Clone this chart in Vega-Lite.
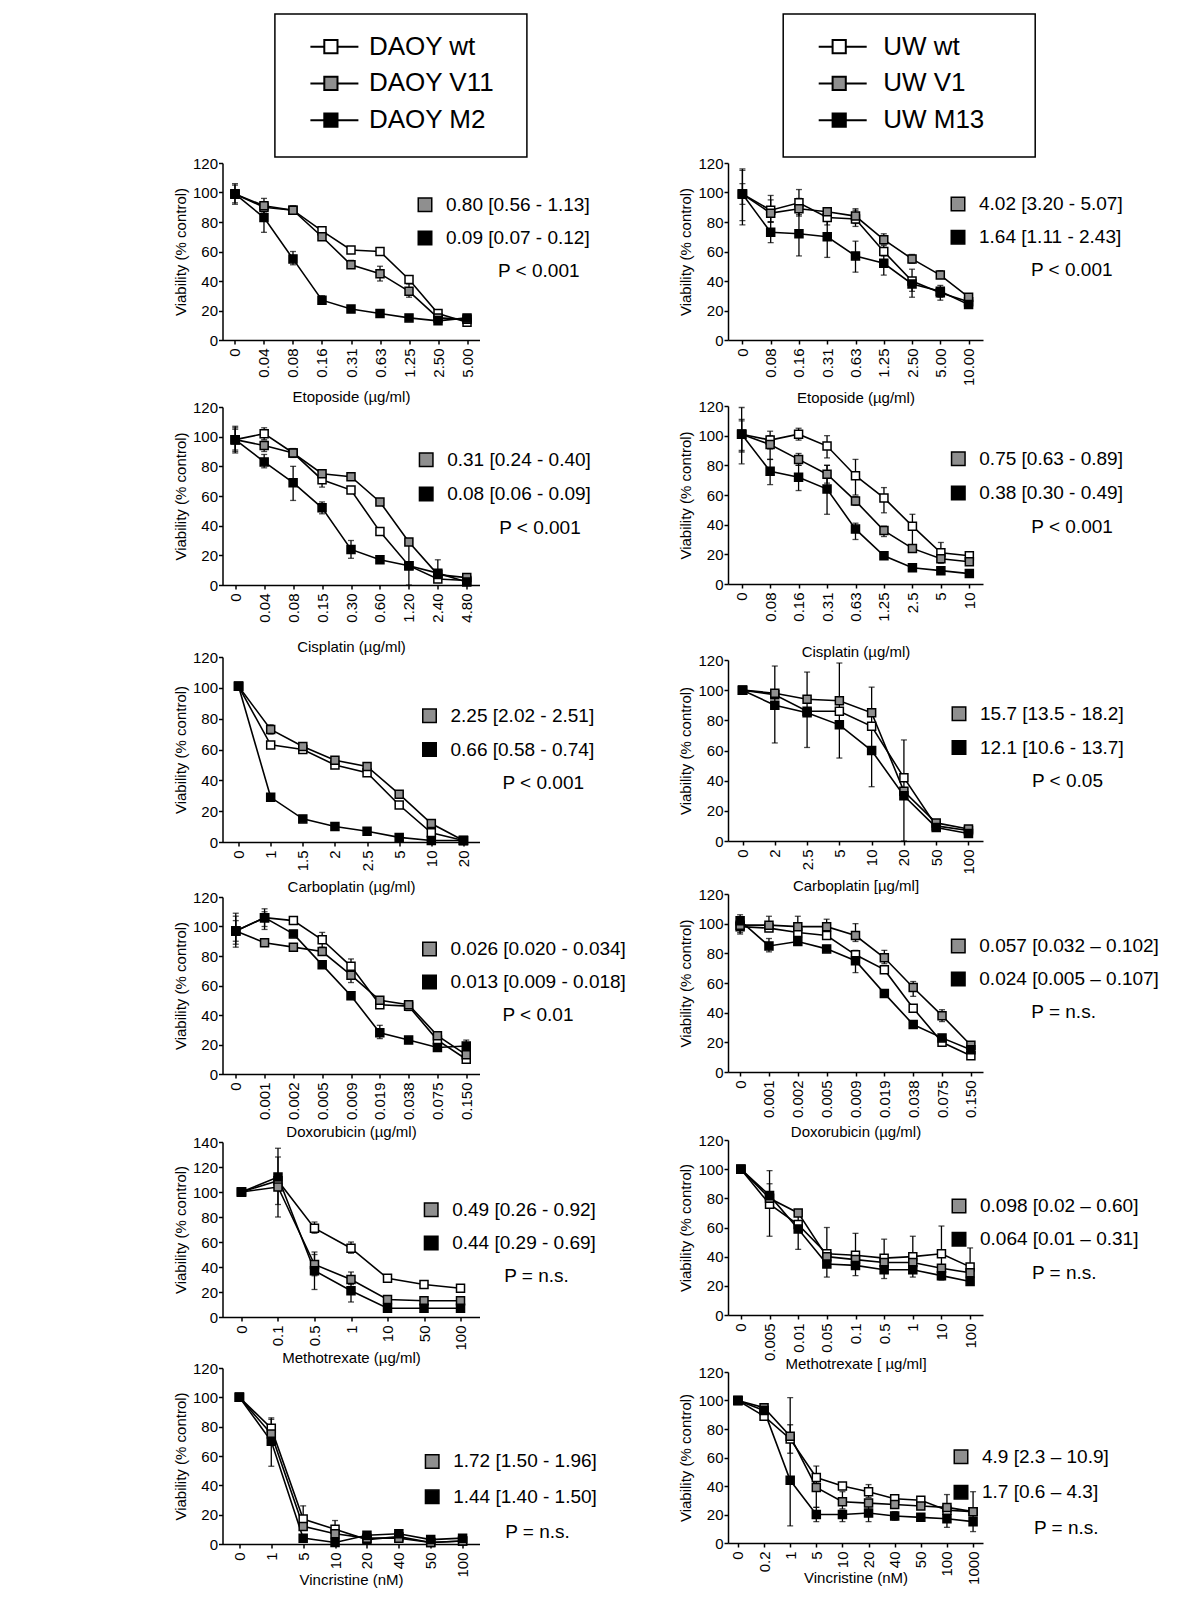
{
"$schema":"https://vega.github.io/schema/vega-lite/v6.json",
"padding":{"left":172.5,"top":11,"right":0,"bottom":0},
"background":"white",
"config":{
 "font":"Liberation Sans",
 "view":{"stroke":null},
 "axis":{"grid":false,"domainColor":"#000","domainWidth":1.5,"tickColor":"#000","tickWidth":1.5,"tickSize":4,"labelColor":"#000","labelFontSize":15,"labelFont":"Liberation Sans","titleFont":"Liberation Sans","titleFontSize":15,"titleFontWeight":"normal","titleColor":"#000","labelOverlap":false},
 "axisX":{"labelAngle":-90,"labelPadding":4},
 "axisY":{"labelPadding":1,"titlePadding":4,"tickCount":6},
 "text":{"font":"Liberation Sans","color":"#000","baseline":"middle"}
},
"datasets":{
"curves":[
{"p":"L1","s":"wt","i":0,"c":"0","v":99,"lo":93,"hi":105},
{"p":"L1","s":"wt","i":1,"c":"0.04","v":90},
{"p":"L1","s":"wt","i":2,"c":"0.08","v":88},
{"p":"L1","s":"wt","i":3,"c":"0.16","v":74},
{"p":"L1","s":"wt","i":4,"c":"0.31","v":61},
{"p":"L1","s":"wt","i":5,"c":"0.63","v":60},
{"p":"L1","s":"wt","i":6,"c":"1.25","v":41},
{"p":"L1","s":"wt","i":7,"c":"2.50","v":18},
{"p":"L1","s":"wt","i":8,"c":"5.00","v":12},
{"p":"L1","s":"V","i":0,"c":"0","v":99},
{"p":"L1","s":"V","i":1,"c":"0.04","v":91,"lo":86,"hi":96},
{"p":"L1","s":"V","i":2,"c":"0.08","v":88,"lo":86,"hi":91},
{"p":"L1","s":"V","i":3,"c":"0.16","v":70},
{"p":"L1","s":"V","i":4,"c":"0.31","v":51,"lo":49,"hi":54},
{"p":"L1","s":"V","i":5,"c":"0.63","v":45,"lo":40,"hi":50},
{"p":"L1","s":"V","i":6,"c":"1.25","v":33,"lo":29,"hi":38},
{"p":"L1","s":"V","i":7,"c":"2.50","v":15},
{"p":"L1","s":"V","i":8,"c":"5.00","v":14},
{"p":"L1","s":"M","i":0,"c":"0","v":99,"lo":92,"hi":106},
{"p":"L1","s":"M","i":1,"c":"0.04","v":83,"lo":73,"hi":92},
{"p":"L1","s":"M","i":2,"c":"0.08","v":55,"lo":51,"hi":60},
{"p":"L1","s":"M","i":3,"c":"0.16","v":27,"lo":25,"hi":30},
{"p":"L1","s":"M","i":4,"c":"0.31","v":21},
{"p":"L1","s":"M","i":5,"c":"0.63","v":18},
{"p":"L1","s":"M","i":6,"c":"1.25","v":15},
{"p":"L1","s":"M","i":7,"c":"2.50","v":13},
{"p":"L1","s":"M","i":8,"c":"5.00","v":15},

{"p":"R1","s":"wt","i":0,"c":"0","v":99,"lo":78,"hi":116},
{"p":"R1","s":"wt","i":1,"c":"0.08","v":88,"lo":80,"hi":98},
{"p":"R1","s":"wt","i":2,"c":"0.16","v":93,"lo":85,"hi":102},
{"p":"R1","s":"wt","i":3,"c":"0.31","v":83,"lo":78,"hi":89},
{"p":"R1","s":"wt","i":4,"c":"0.63","v":82,"lo":77,"hi":88},
{"p":"R1","s":"wt","i":5,"c":"1.25","v":60,"lo":57,"hi":64},
{"p":"R1","s":"wt","i":6,"c":"2.50","v":40,"lo":29,"hi":48},
{"p":"R1","s":"wt","i":7,"c":"5.00","v":32,"lo":29,"hi":35},
{"p":"R1","s":"wt","i":8,"c":"10.00","v":26},
{"p":"R1","s":"V","i":0,"c":"0","v":99,"lo":81,"hi":115},
{"p":"R1","s":"V","i":1,"c":"0.08","v":86,"lo":80,"hi":95},
{"p":"R1","s":"V","i":2,"c":"0.16","v":89,"lo":84,"hi":96},
{"p":"R1","s":"V","i":3,"c":"0.31","v":87},
{"p":"R1","s":"V","i":4,"c":"0.63","v":84,"lo":79,"hi":89},
{"p":"R1","s":"V","i":5,"c":"1.25","v":68,"lo":65,"hi":72},
{"p":"R1","s":"V","i":6,"c":"2.50","v":55,"lo":52,"hi":58},
{"p":"R1","s":"V","i":7,"c":"5.00","v":44,"lo":42,"hi":47},
{"p":"R1","s":"V","i":8,"c":"10.00","v":29,"lo":27,"hi":31},
{"p":"R1","s":"M","i":0,"c":"0","v":99,"lo":92,"hi":106},
{"p":"R1","s":"M","i":1,"c":"0.08","v":73,"lo":66,"hi":80},
{"p":"R1","s":"M","i":2,"c":"0.16","v":72,"lo":57,"hi":87},
{"p":"R1","s":"M","i":3,"c":"0.31","v":70,"lo":56,"hi":83},
{"p":"R1","s":"M","i":4,"c":"0.63","v":57,"lo":46,"hi":67},
{"p":"R1","s":"M","i":5,"c":"1.25","v":52,"lo":44,"hi":60},
{"p":"R1","s":"M","i":6,"c":"2.50","v":38,"lo":33,"hi":42},
{"p":"R1","s":"M","i":7,"c":"5.00","v":33,"lo":27,"hi":37},
{"p":"R1","s":"M","i":8,"c":"10.00","v":24,"lo":22,"hi":26},

{"p":"L2","s":"wt","i":0,"c":"0","v":98,"lo":89,"hi":107},
{"p":"L2","s":"wt","i":1,"c":"0.04","v":102,"lo":98,"hi":106},
{"p":"L2","s":"wt","i":2,"c":"0.08","v":89},
{"p":"L2","s":"wt","i":3,"c":"0.15","v":71,"lo":66,"hi":73},
{"p":"L2","s":"wt","i":4,"c":"0.30","v":64},
{"p":"L2","s":"wt","i":5,"c":"0.60","v":36},
{"p":"L2","s":"wt","i":6,"c":"1.20","v":13},
{"p":"L2","s":"wt","i":7,"c":"2.40","v":4},
{"p":"L2","s":"wt","i":8,"c":"4.80","v":3},
{"p":"L2","s":"V","i":0,"c":"0","v":98,"lo":90,"hi":106},
{"p":"L2","s":"V","i":1,"c":"0.04","v":94,"lo":90,"hi":97},
{"p":"L2","s":"V","i":2,"c":"0.08","v":89,"lo":86,"hi":92},
{"p":"L2","s":"V","i":3,"c":"0.15","v":75},
{"p":"L2","s":"V","i":4,"c":"0.30","v":73},
{"p":"L2","s":"V","i":5,"c":"0.60","v":56},
{"p":"L2","s":"V","i":6,"c":"1.20","v":29},
{"p":"L2","s":"V","i":7,"c":"2.40","v":7},
{"p":"L2","s":"V","i":8,"c":"4.80","v":5},
{"p":"L2","s":"M","i":0,"c":"0","v":98,"lo":91,"hi":105},
{"p":"L2","s":"M","i":1,"c":"0.04","v":83,"lo":79,"hi":88},
{"p":"L2","s":"M","i":2,"c":"0.08","v":69,"lo":57,"hi":80},
{"p":"L2","s":"M","i":3,"c":"0.15","v":52,"lo":48,"hi":56},
{"p":"L2","s":"M","i":4,"c":"0.30","v":24,"lo":18,"hi":30},
{"p":"L2","s":"M","i":5,"c":"0.60","v":17,"lo":15,"hi":19},
{"p":"L2","s":"M","i":6,"c":"1.20","v":13,"lo":0,"hi":28},
{"p":"L2","s":"M","i":7,"c":"2.40","v":8,"lo":3,"hi":17},
{"p":"L2","s":"M","i":8,"c":"4.80","v":2},

{"p":"R2","s":"wt","i":0,"c":"0","v":101,"lo":81,"hi":119},
{"p":"R2","s":"wt","i":1,"c":"0.08","v":97,"lo":91,"hi":103},
{"p":"R2","s":"wt","i":2,"c":"0.16","v":101,"lo":97,"hi":105},
{"p":"R2","s":"wt","i":3,"c":"0.31","v":93,"lo":85,"hi":100},
{"p":"R2","s":"wt","i":4,"c":"0.63","v":73,"lo":60,"hi":84},
{"p":"R2","s":"wt","i":5,"c":"1.25","v":58,"lo":48,"hi":65},
{"p":"R2","s":"wt","i":6,"c":"2.5","v":39,"lo":26,"hi":47},
{"p":"R2","s":"wt","i":7,"c":"5","v":21,"lo":14,"hi":28},
{"p":"R2","s":"wt","i":8,"c":"10","v":19},
{"p":"R2","s":"V","i":0,"c":"0","v":101,"lo":89,"hi":111},
{"p":"R2","s":"V","i":1,"c":"0.08","v":94,"lo":84,"hi":100},
{"p":"R2","s":"V","i":2,"c":"0.16","v":84,"lo":80,"hi":88},
{"p":"R2","s":"V","i":3,"c":"0.31","v":74,"lo":68,"hi":80},
{"p":"R2","s":"V","i":4,"c":"0.63","v":56,"lo":53,"hi":59},
{"p":"R2","s":"V","i":5,"c":"1.25","v":36,"lo":32,"hi":39},
{"p":"R2","s":"V","i":6,"c":"2.5","v":24,"lo":22,"hi":26},
{"p":"R2","s":"V","i":7,"c":"5","v":17,"lo":15,"hi":19},
{"p":"R2","s":"V","i":8,"c":"10","v":15},
{"p":"R2","s":"M","i":0,"c":"0","v":101,"lo":90,"hi":110},
{"p":"R2","s":"M","i":1,"c":"0.08","v":76,"lo":67,"hi":84},
{"p":"R2","s":"M","i":2,"c":"0.16","v":72,"lo":63,"hi":80},
{"p":"R2","s":"M","i":3,"c":"0.31","v":64,"lo":47,"hi":80},
{"p":"R2","s":"M","i":4,"c":"0.63","v":37,"lo":30,"hi":41},
{"p":"R2","s":"M","i":5,"c":"1.25","v":19},
{"p":"R2","s":"M","i":6,"c":"2.5","v":11},
{"p":"R2","s":"M","i":7,"c":"5","v":9},
{"p":"R2","s":"M","i":8,"c":"10","v":7},

{"p":"L3","s":"wt","i":0,"c":"0","v":101},
{"p":"L3","s":"wt","i":1,"c":"1","v":63},
{"p":"L3","s":"wt","i":2,"c":"1.5","v":60},
{"p":"L3","s":"wt","i":3,"c":"2","v":50},
{"p":"L3","s":"wt","i":4,"c":"2.5","v":45},
{"p":"L3","s":"wt","i":5,"c":"5","v":24},
{"p":"L3","s":"wt","i":6,"c":"10","v":6},
{"p":"L3","s":"wt","i":7,"c":"20","v":1},
{"p":"L3","s":"V","i":0,"c":"0","v":101},
{"p":"L3","s":"V","i":1,"c":"1","v":73,"lo":70,"hi":76},
{"p":"L3","s":"V","i":2,"c":"1.5","v":62},
{"p":"L3","s":"V","i":3,"c":"2","v":53},
{"p":"L3","s":"V","i":4,"c":"2.5","v":49},
{"p":"L3","s":"V","i":5,"c":"5","v":31},
{"p":"L3","s":"V","i":6,"c":"10","v":12},
{"p":"L3","s":"V","i":7,"c":"20","v":1},
{"p":"L3","s":"M","i":0,"c":"0","v":101},
{"p":"L3","s":"M","i":1,"c":"1","v":29},
{"p":"L3","s":"M","i":2,"c":"1.5","v":15},
{"p":"L3","s":"M","i":3,"c":"2","v":10},
{"p":"L3","s":"M","i":4,"c":"2.5","v":7},
{"p":"L3","s":"M","i":5,"c":"5","v":3},
{"p":"L3","s":"M","i":6,"c":"10","v":1},
{"p":"L3","s":"M","i":7,"c":"20","v":1},

{"p":"R3","s":"wt","i":0,"c":"0","v":100},
{"p":"R3","s":"wt","i":1,"c":"2","v":97},
{"p":"R3","s":"wt","i":2,"c":"2.5","v":86},
{"p":"R3","s":"wt","i":3,"c":"5","v":86},
{"p":"R3","s":"wt","i":4,"c":"10","v":76},
{"p":"R3","s":"wt","i":5,"c":"20","v":42,"lo":0,"hi":67},
{"p":"R3","s":"wt","i":6,"c":"50","v":10},
{"p":"R3","s":"wt","i":7,"c":"100","v":7},
{"p":"R3","s":"V","i":0,"c":"0","v":100},
{"p":"R3","s":"V","i":1,"c":"2","v":98},
{"p":"R3","s":"V","i":2,"c":"2.5","v":94},
{"p":"R3","s":"V","i":3,"c":"5","v":93},
{"p":"R3","s":"V","i":4,"c":"10","v":85},
{"p":"R3","s":"V","i":5,"c":"20","v":33},
{"p":"R3","s":"V","i":6,"c":"50","v":12},
{"p":"R3","s":"V","i":7,"c":"100","v":8},
{"p":"R3","s":"M","i":0,"c":"0","v":100},
{"p":"R3","s":"M","i":1,"c":"2","v":90,"lo":65,"hi":116},
{"p":"R3","s":"M","i":2,"c":"2.5","v":85,"lo":62,"hi":112},
{"p":"R3","s":"M","i":3,"c":"5","v":77,"lo":55,"hi":118},
{"p":"R3","s":"M","i":4,"c":"10","v":60,"lo":36,"hi":102},
{"p":"R3","s":"M","i":5,"c":"20","v":30},
{"p":"R3","s":"M","i":6,"c":"50","v":9},
{"p":"R3","s":"M","i":7,"c":"100","v":5},

{"p":"L4","s":"wt","i":0,"c":"0","v":97,"lo":86,"hi":109},
{"p":"L4","s":"wt","i":1,"c":"0.001","v":106,"lo":98,"hi":110},
{"p":"L4","s":"wt","i":2,"c":"0.002","v":104},
{"p":"L4","s":"wt","i":3,"c":"0.005","v":91,"lo":86,"hi":96},
{"p":"L4","s":"wt","i":4,"c":"0.009","v":73,"lo":68,"hi":78},
{"p":"L4","s":"wt","i":5,"c":"0.019","v":47,"lo":45,"hi":49},
{"p":"L4","s":"wt","i":6,"c":"0.038","v":46},
{"p":"L4","s":"wt","i":7,"c":"0.075","v":23},
{"p":"L4","s":"wt","i":8,"c":"0.150","v":10},
{"p":"L4","s":"V","i":0,"c":"0","v":97,"lo":90,"hi":104},
{"p":"L4","s":"V","i":1,"c":"0.001","v":89},
{"p":"L4","s":"V","i":2,"c":"0.002","v":86},
{"p":"L4","s":"V","i":3,"c":"0.005","v":83},
{"p":"L4","s":"V","i":4,"c":"0.009","v":67,"lo":62,"hi":71},
{"p":"L4","s":"V","i":5,"c":"0.019","v":50},
{"p":"L4","s":"V","i":6,"c":"0.038","v":47,"lo":43,"hi":49},
{"p":"L4","s":"V","i":7,"c":"0.075","v":26},
{"p":"L4","s":"V","i":8,"c":"0.150","v":13},
{"p":"L4","s":"M","i":0,"c":"0","v":97,"lo":88,"hi":107},
{"p":"L4","s":"M","i":1,"c":"0.001","v":106,"lo":100,"hi":112},
{"p":"L4","s":"M","i":2,"c":"0.002","v":95},
{"p":"L4","s":"M","i":3,"c":"0.005","v":74},
{"p":"L4","s":"M","i":4,"c":"0.009","v":53},
{"p":"L4","s":"M","i":5,"c":"0.019","v":28,"lo":24,"hi":33},
{"p":"L4","s":"M","i":6,"c":"0.038","v":23},
{"p":"L4","s":"M","i":7,"c":"0.075","v":18},
{"p":"L4","s":"M","i":8,"c":"0.150","v":19,"lo":14,"hi":23},

{"p":"R4","s":"wt","i":0,"c":"0","v":98,"lo":94,"hi":104},
{"p":"R4","s":"wt","i":1,"c":"0.001","v":97},
{"p":"R4","s":"wt","i":2,"c":"0.002","v":94},
{"p":"R4","s":"wt","i":3,"c":"0.005","v":92},
{"p":"R4","s":"wt","i":4,"c":"0.009","v":79},
{"p":"R4","s":"wt","i":5,"c":"0.019","v":69},
{"p":"R4","s":"wt","i":6,"c":"0.038","v":43},
{"p":"R4","s":"wt","i":7,"c":"0.075","v":20},
{"p":"R4","s":"wt","i":8,"c":"0.150","v":11},
{"p":"R4","s":"V","i":0,"c":"0","v":99},
{"p":"R4","s":"V","i":1,"c":"0.001","v":99,"lo":95,"hi":105},
{"p":"R4","s":"V","i":2,"c":"0.002","v":98,"lo":93,"hi":105},
{"p":"R4","s":"V","i":3,"c":"0.005","v":98,"lo":94,"hi":103},
{"p":"R4","s":"V","i":4,"c":"0.009","v":92,"lo":88,"hi":100},
{"p":"R4","s":"V","i":5,"c":"0.019","v":77,"lo":73,"hi":82},
{"p":"R4","s":"V","i":6,"c":"0.038","v":57,"lo":51,"hi":61},
{"p":"R4","s":"V","i":7,"c":"0.075","v":38,"lo":34,"hi":42},
{"p":"R4","s":"V","i":8,"c":"0.150","v":18},
{"p":"R4","s":"M","i":0,"c":"0","v":102,"lo":93,"hi":106},
{"p":"R4","s":"M","i":1,"c":"0.001","v":85,"lo":81,"hi":90},
{"p":"R4","s":"M","i":2,"c":"0.002","v":88},
{"p":"R4","s":"M","i":3,"c":"0.005","v":83},
{"p":"R4","s":"M","i":4,"c":"0.009","v":75,"lo":67,"hi":82},
{"p":"R4","s":"M","i":5,"c":"0.019","v":53},
{"p":"R4","s":"M","i":6,"c":"0.038","v":32},
{"p":"R4","s":"M","i":7,"c":"0.075","v":23},
{"p":"R4","s":"M","i":8,"c":"0.150","v":15},

{"p":"L5","s":"wt","i":0,"c":"0","v":100},
{"p":"L5","s":"wt","i":1,"c":"0.1","v":109},
{"p":"L5","s":"wt","i":2,"c":"0.5","v":71,"lo":67,"hi":76},
{"p":"L5","s":"wt","i":3,"c":"1","v":55,"lo":51,"hi":60},
{"p":"L5","s":"wt","i":4,"c":"10","v":31},
{"p":"L5","s":"wt","i":5,"c":"50","v":26},
{"p":"L5","s":"wt","i":6,"c":"100","v":23},
{"p":"L5","s":"V","i":0,"c":"0","v":100},
{"p":"L5","s":"V","i":1,"c":"0.1","v":104,"lo":80,"hi":128},
{"p":"L5","s":"V","i":2,"c":"0.5","v":42,"lo":33,"hi":52},
{"p":"L5","s":"V","i":3,"c":"1","v":30,"lo":26,"hi":36},
{"p":"L5","s":"V","i":4,"c":"10","v":14},
{"p":"L5","s":"V","i":5,"c":"50","v":13},
{"p":"L5","s":"V","i":6,"c":"100","v":13},
{"p":"L5","s":"M","i":0,"c":"0","v":100},
{"p":"L5","s":"M","i":1,"c":"0.1","v":112,"lo":90,"hi":135},
{"p":"L5","s":"M","i":2,"c":"0.5","v":37,"lo":22,"hi":50},
{"p":"L5","s":"M","i":3,"c":"1","v":21,"lo":12,"hi":27},
{"p":"L5","s":"M","i":4,"c":"10","v":7},
{"p":"L5","s":"M","i":5,"c":"50","v":7},
{"p":"L5","s":"M","i":6,"c":"100","v":7},

{"p":"R5","s":"wt","i":0,"c":"0","v":100},
{"p":"R5","s":"wt","i":1,"c":"0.005","v":76,"lo":54,"hi":99},
{"p":"R5","s":"wt","i":2,"c":"0.01","v":62,"lo":45,"hi":68},
{"p":"R5","s":"wt","i":3,"c":"0.05","v":42,"lo":26,"hi":60},
{"p":"R5","s":"wt","i":4,"c":"0.1","v":41,"lo":27,"hi":56},
{"p":"R5","s":"wt","i":5,"c":"0.5","v":39,"lo":25,"hi":52},
{"p":"R5","s":"wt","i":6,"c":"1","v":40,"lo":26,"hi":54},
{"p":"R5","s":"wt","i":7,"c":"10","v":42,"lo":24,"hi":61},
{"p":"R5","s":"wt","i":8,"c":"100","v":33,"lo":21,"hi":46},
{"p":"R5","s":"V","i":0,"c":"0","v":100},
{"p":"R5","s":"V","i":1,"c":"0.005","v":80},
{"p":"R5","s":"V","i":2,"c":"0.01","v":70},
{"p":"R5","s":"V","i":3,"c":"0.05","v":40},
{"p":"R5","s":"V","i":4,"c":"0.1","v":38},
{"p":"R5","s":"V","i":5,"c":"0.5","v":36},
{"p":"R5","s":"V","i":6,"c":"1","v":36},
{"p":"R5","s":"V","i":7,"c":"10","v":32},
{"p":"R5","s":"V","i":8,"c":"100","v":29},
{"p":"R5","s":"M","i":0,"c":"0","v":100},
{"p":"R5","s":"M","i":1,"c":"0.005","v":82,"lo":75,"hi":90},
{"p":"R5","s":"M","i":2,"c":"0.01","v":59},
{"p":"R5","s":"M","i":3,"c":"0.05","v":35},
{"p":"R5","s":"M","i":4,"c":"0.1","v":34},
{"p":"R5","s":"M","i":5,"c":"0.5","v":31},
{"p":"R5","s":"M","i":6,"c":"1","v":31},
{"p":"R5","s":"M","i":7,"c":"10","v":27},
{"p":"R5","s":"M","i":8,"c":"100","v":23},

{"p":"L6","s":"wt","i":0,"c":"0","v":100},
{"p":"L6","s":"wt","i":1,"c":"1","v":79,"lo":74,"hi":86},
{"p":"L6","s":"wt","i":2,"c":"5","v":17,"lo":10,"hi":26},
{"p":"L6","s":"wt","i":3,"c":"10","v":10,"lo":6,"hi":16},
{"p":"L6","s":"wt","i":4,"c":"20","v":3},
{"p":"L6","s":"wt","i":5,"c":"40","v":5},
{"p":"L6","s":"wt","i":6,"c":"50","v":1},
{"p":"L6","s":"wt","i":7,"c":"100","v":2},
{"p":"L6","s":"V","i":0,"c":"0","v":100},
{"p":"L6","s":"V","i":1,"c":"1","v":75},
{"p":"L6","s":"V","i":2,"c":"5","v":12},
{"p":"L6","s":"V","i":3,"c":"10","v":7},
{"p":"L6","s":"V","i":4,"c":"20","v":4},
{"p":"L6","s":"V","i":5,"c":"40","v":4},
{"p":"L6","s":"V","i":6,"c":"50","v":1},
{"p":"L6","s":"V","i":7,"c":"100","v":2},
{"p":"L6","s":"M","i":0,"c":"0","v":100},
{"p":"L6","s":"M","i":1,"c":"1","v":70,"lo":53,"hi":85},
{"p":"L6","s":"M","i":2,"c":"5","v":4},
{"p":"L6","s":"M","i":3,"c":"10","v":1},
{"p":"L6","s":"M","i":4,"c":"20","v":6},
{"p":"L6","s":"M","i":5,"c":"40","v":7},
{"p":"L6","s":"M","i":6,"c":"50","v":3},
{"p":"L6","s":"M","i":7,"c":"100","v":4},

{"p":"R6","s":"wt","i":0,"c":"0","v":100},
{"p":"R6","s":"wt","i":1,"c":"0.2","v":89},
{"p":"R6","s":"wt","i":2,"c":"1","v":73},
{"p":"R6","s":"wt","i":3,"c":"5","v":46,"lo":43,"hi":54},
{"p":"R6","s":"wt","i":4,"c":"10","v":40},
{"p":"R6","s":"wt","i":5,"c":"20","v":36,"lo":32,"hi":41},
{"p":"R6","s":"wt","i":6,"c":"40","v":31},
{"p":"R6","s":"wt","i":7,"c":"50","v":30},
{"p":"R6","s":"wt","i":8,"c":"100","v":23},
{"p":"R6","s":"wt","i":9,"c":"1000","v":22,"lo":8,"hi":36},
{"p":"R6","s":"V","i":0,"c":"0","v":100},
{"p":"R6","s":"V","i":1,"c":"0.2","v":95},
{"p":"R6","s":"V","i":2,"c":"1","v":75,"lo":63,"hi":83},
{"p":"R6","s":"V","i":3,"c":"5","v":39,"lo":25,"hi":46},
{"p":"R6","s":"V","i":4,"c":"10","v":29,"lo":24,"hi":36},
{"p":"R6","s":"V","i":5,"c":"20","v":28},
{"p":"R6","s":"V","i":6,"c":"40","v":27},
{"p":"R6","s":"V","i":7,"c":"50","v":26},
{"p":"R6","s":"V","i":8,"c":"100","v":25,"lo":19,"hi":34},
{"p":"R6","s":"V","i":9,"c":"1000","v":22},
{"p":"R6","s":"M","i":0,"c":"0","v":100},
{"p":"R6","s":"M","i":1,"c":"0.2","v":93},
{"p":"R6","s":"M","i":2,"c":"1","v":44,"lo":12,"hi":102},
{"p":"R6","s":"M","i":3,"c":"5","v":20,"lo":15,"hi":25},
{"p":"R6","s":"M","i":4,"c":"10","v":20,"lo":15,"hi":23},
{"p":"R6","s":"M","i":5,"c":"20","v":21,"lo":15,"hi":27},
{"p":"R6","s":"M","i":6,"c":"40","v":19,"lo":16,"hi":22},
{"p":"R6","s":"M","i":7,"c":"50","v":18},
{"p":"R6","s":"M","i":8,"c":"100","v":17,"lo":11,"hi":22},
{"p":"R6","s":"M","i":9,"c":"1000","v":15}
],
"anno":[
{"p":"L1","ln":"a","s":"V","t":"0.80 [0.56 - 1.13]"},{"p":"L1","ln":"b","s":"M","t":"0.09 [0.07 - 0.12]"},{"p":"L1","ln":"p","t":"P < 0.001"},
{"p":"R1","ln":"a","s":"V","t":"4.02 [3.20 - 5.07]"},{"p":"R1","ln":"b","s":"M","t":"1.64 [1.11 - 2.43]"},{"p":"R1","ln":"p","t":"P < 0.001"},
{"p":"L2","ln":"a","s":"V","t":"0.31 [0.24 - 0.40]"},{"p":"L2","ln":"b","s":"M","t":"0.08 [0.06 - 0.09]"},{"p":"L2","ln":"p","t":"P < 0.001"},
{"p":"R2","ln":"a","s":"V","t":"0.75 [0.63 - 0.89]"},{"p":"R2","ln":"b","s":"M","t":"0.38 [0.30 - 0.49]"},{"p":"R2","ln":"p","t":"P < 0.001"},
{"p":"L3","ln":"a","s":"V","t":"2.25 [2.02 - 2.51]"},{"p":"L3","ln":"b","s":"M","t":"0.66 [0.58 - 0.74]"},{"p":"L3","ln":"p","t":"P < 0.001"},
{"p":"R3","ln":"a","s":"V","t":"15.7 [13.5 - 18.2]"},{"p":"R3","ln":"b","s":"M","t":"12.1 [10.6 - 13.7]"},{"p":"R3","ln":"p","t":"P < 0.05"},
{"p":"L4","ln":"a","s":"V","t":"0.026 [0.020 - 0.034]"},{"p":"L4","ln":"b","s":"M","t":"0.013 [0.009 - 0.018]"},{"p":"L4","ln":"p","t":"P < 0.01"},
{"p":"R4","ln":"a","s":"V","t":"0.057 [0.032 – 0.102]"},{"p":"R4","ln":"b","s":"M","t":"0.024 [0.005 – 0.107]"},{"p":"R4","ln":"p","t":"P = n.s."},
{"p":"L5","ln":"a","s":"V","t":"0.49 [0.26 - 0.92]"},{"p":"L5","ln":"b","s":"M","t":"0.44 [0.29 - 0.69]"},{"p":"L5","ln":"p","t":"P = n.s."},
{"p":"R5","ln":"a","s":"V","t":"0.098 [0.02 – 0.60]"},{"p":"R5","ln":"b","s":"M","t":"0.064 [0.01 – 0.31]"},{"p":"R5","ln":"p","t":"P = n.s."},
{"p":"L6","ln":"a","s":"V","t":"1.72 [1.50 - 1.96]"},{"p":"L6","ln":"b","s":"M","t":"1.44 [1.40 - 1.50]"},{"p":"L6","ln":"p","t":"P = n.s."},
{"p":"R6","ln":"a","s":"V","t":"4.9 [2.3 – 10.9]"},{"p":"R6","ln":"b","s":"M","t":"1.7 [0.6 – 4.3]"},{"p":"R6","ln":"p","t":"P = n.s."}
],
"legend":[
{"g":"DAOY","lab":"DAOY wt","s":"wt"},{"g":"DAOY","lab":"DAOY V11","s":"V"},{"g":"DAOY","lab":"DAOY M2","s":"M"},
{"g":"UW","lab":"UW wt","s":"wt"},{"g":"UW","lab":"UW V1","s":"V"},{"g":"UW","lab":"UW M13","s":"M"}
]
},
"data":{"name":"curves"},
"spacing":51.5,
"hconcat":[
{"spacing":-2,"vconcat":[
 {"spacing":47.4,"hconcat":[
  {"width":1,"height":1,"data":{"values":[{"z":0}]},"mark":{"type":"point","opacity":0},"encoding":{}},
  {"width":252,"height":143,"view":{"stroke":"#000","strokeWidth":1.5},"data":{"name":"legend"},"transform":[{"filter":"datum.g=='DAOY'"}],
   "encoding":{"y":{"field":"lab","type":"ordinal","scale":{"type":"point","padding":0,"domain":["DAOY wt","DAOY V11","DAOY M2"],"range":[32.7,106.2]},"axis":null}},
   "layer":[
    {"mark":{"type":"point","shape":"M-9.05,0H-7.66M-6.34,0H-4.25M-7.66,-0.66H-6.34V0.66H-7.66Z","filled":true,"size":400,"stroke":"#000","strokeWidth":2,"opacity":1},"encoding":{"fill":{"field":"s","type":"nominal","scale":{"domain":["wt","V","M"],"range":["#ffffff","#8f8f8f","#000000"]},"legend":null}}},
    {"mark":{"type":"text","align":"left","dx":-32,"fontSize":26},"encoding":{"text":{"field":"lab"}}}
   ]}
 ]},
 {"spacing":-5,"vconcat":[
  {"width":257,"height":177,"resolve":{"scale":{"y":"independent"}},"layer":[
   {"transform":[{"filter":"datum.p=='L1'"}],
    "encoding":{"x":{"field":"c","type":"ordinal","scale":{"type":"point","padding":0.43,"domain":["0","0.04","0.08","0.16","0.31","0.63","1.25","2.50","5.00"]},"axis":{"title":"Etoposide (µg/ml)","titlePadding":12.3}}},
    "layer":[
     {"transform":[{"filter":"isValid(datum.lo)"}],"mark":{"type":"errorbar","ticks":true,"size":6,"thickness":1.3,"color":"#000"},"encoding":{"y":{"field":"lo","type":"quantitative","scale":{"domain":[0,120]},"title":"Viability  (% control)"},"y2":{"field":"hi"}}},
     {"mark":{"type":"line","color":"#000","strokeWidth":1.6},"encoding":{"y":{"field":"v","type":"quantitative","scale":{"domain":[0,120]},"title":"Viability  (% control)"},"detail":{"field":"s","type":"nominal"},"order":{"field":"i","type":"quantitative"}}},
     {"mark":{"type":"point","shape":"square","filled":true,"size":64,"stroke":"#000","strokeWidth":1.5,"opacity":1},"encoding":{"y":{"field":"v","type":"quantitative","scale":{"domain":[0,120]},"title":"Viability  (% control)"},"fill":{"field":"s","type":"nominal","scale":{"domain":["wt","V","M"],"range":["#ffffff","#8f8f8f","#000000"]},"legend":null}}}
    ]},
   {"data":{"name":"anno"},"transform":[{"filter":"datum.p=='L1'"}],
    "encoding":{"y":{"field":"ln","type":"ordinal","scale":{"type":"point","padding":0,"domain":["a","b","p"],"range":[41.7,108.1]},"axis":null}},
    "layer":[
     {"transform":[{"filter":"datum.ln!='p'"}],"mark":{"type":"point","shape":"M6.725,-0.675H8.075V0.675H6.725Z","filled":true,"size":400,"stroke":"#000","strokeWidth":1.5,"opacity":1},"encoding":{"fill":{"field":"s","type":"nominal","scale":{"domain":["wt","V","M"],"range":["#ffffff","#8f8f8f","#000000"]},"legend":null}}},
     {"transform":[{"filter":"datum.ln!='p'"}],"mark":{"type":"text","align":"left","dx":95,"fontSize":19},"encoding":{"text":{"field":"t"}}},
     {"transform":[{"filter":"datum.ln=='p'"}],"mark":{"type":"text","align":"left","dx":147,"fontSize":19},"encoding":{"text":{"field":"t"}}}
    ]}
  ]},
  {"width":257,"height":178,"resolve":{"scale":{"y":"independent"}},"layer":[
   {"transform":[{"filter":"datum.p=='L2'"}],
    "encoding":{"x":{"field":"c","type":"ordinal","scale":{"type":"point","padding":0.44,"domain":["0","0.04","0.08","0.15","0.30","0.60","1.20","2.40","4.80"]},"axis":{"title":"Cisplatin (µg/ml)","titlePadding":16.9}}},
    "layer":[
     {"transform":[{"filter":"isValid(datum.lo)"}],"mark":{"type":"errorbar","ticks":true,"size":6,"thickness":1.3,"color":"#000"},"encoding":{"y":{"field":"lo","type":"quantitative","scale":{"domain":[0,120]},"title":"Viability  (% control)"},"y2":{"field":"hi"}}},
     {"mark":{"type":"line","color":"#000","strokeWidth":1.6},"encoding":{"y":{"field":"v","type":"quantitative","scale":{"domain":[0,120]},"title":"Viability  (% control)"},"detail":{"field":"s","type":"nominal"},"order":{"field":"i","type":"quantitative"}}},
     {"mark":{"type":"point","shape":"square","filled":true,"size":64,"stroke":"#000","strokeWidth":1.5,"opacity":1},"encoding":{"y":{"field":"v","type":"quantitative","scale":{"domain":[0,120]},"title":"Viability  (% control)"},"fill":{"field":"s","type":"nominal","scale":{"domain":["wt","V","M"],"range":["#ffffff","#8f8f8f","#000000"]},"legend":null}}}
    ]},
   {"data":{"name":"anno"},"transform":[{"filter":"datum.p=='L2'"}],
    "encoding":{"y":{"field":"ln","type":"ordinal","scale":{"type":"point","padding":0,"domain":["a","b","p"],"range":[52.7,121.3]},"axis":null}},
    "layer":[
     {"transform":[{"filter":"datum.ln!='p'"}],"mark":{"type":"point","shape":"M6.845,-0.675H8.195V0.675H6.845Z","filled":true,"size":400,"stroke":"#000","strokeWidth":1.5,"opacity":1},"encoding":{"fill":{"field":"s","type":"nominal","scale":{"domain":["wt","V","M"],"range":["#ffffff","#8f8f8f","#000000"]},"legend":null}}},
     {"transform":[{"filter":"datum.ln!='p'"}],"mark":{"type":"text","align":"left","dx":96.2,"fontSize":19},"encoding":{"text":{"field":"t"}}},
     {"transform":[{"filter":"datum.ln=='p'"}],"mark":{"type":"text","align":"left","dx":148.2,"fontSize":19},"encoding":{"text":{"field":"t"}}}
    ]}
  ]},
  {"width":257,"height":185,"resolve":{"scale":{"y":"independent"}},"layer":[
   {"transform":[{"filter":"datum.p=='L3'"}],
    "encoding":{"x":{"field":"c","type":"ordinal","scale":{"type":"point","padding":0.5,"domain":["0","1","1.5","2","2.5","5","10","20"]},"axis":{"title":"Carboplatin (µg/ml)","titlePadding":8.6}}},
    "layer":[
     {"transform":[{"filter":"isValid(datum.lo)"}],"mark":{"type":"errorbar","ticks":true,"size":6,"thickness":1.3,"color":"#000"},"encoding":{"y":{"field":"lo","type":"quantitative","scale":{"domain":[0,120]},"title":"Viability (% control)"},"y2":{"field":"hi"}}},
     {"mark":{"type":"line","color":"#000","strokeWidth":1.6},"encoding":{"y":{"field":"v","type":"quantitative","scale":{"domain":[0,120]},"title":"Viability (% control)"},"detail":{"field":"s","type":"nominal"},"order":{"field":"i","type":"quantitative"}}},
     {"mark":{"type":"point","shape":"square","filled":true,"size":64,"stroke":"#000","strokeWidth":1.5,"opacity":1},"encoding":{"y":{"field":"v","type":"quantitative","scale":{"domain":[0,120]},"title":"Viability (% control)"},"fill":{"field":"s","type":"nominal","scale":{"domain":["wt","V","M"],"range":["#ffffff","#8f8f8f","#000000"]},"legend":null}}}
    ]},
   {"data":{"name":"anno"},"transform":[{"filter":"datum.p=='L3'"}],
    "encoding":{"y":{"field":"ln","type":"ordinal","scale":{"type":"point","padding":0,"domain":["a","b","p"],"range":[58.7,126.4]},"axis":null}},
    "layer":[
     {"transform":[{"filter":"datum.ln!='p'"}],"mark":{"type":"point","shape":"M7.175,-0.675H8.525V0.675H7.175Z","filled":true,"size":400,"stroke":"#000","strokeWidth":1.5,"opacity":1},"encoding":{"fill":{"field":"s","type":"nominal","scale":{"domain":["wt","V","M"],"range":["#ffffff","#8f8f8f","#000000"]},"legend":null}}},
     {"transform":[{"filter":"datum.ln!='p'"}],"mark":{"type":"text","align":"left","dx":99.5,"fontSize":19},"encoding":{"text":{"field":"t"}}},
     {"transform":[{"filter":"datum.ln=='p'"}],"mark":{"type":"text","align":"left","dx":151.5,"fontSize":19},"encoding":{"text":{"field":"t"}}}
    ]}
  ]},
  {"width":257,"height":177,"resolve":{"scale":{"y":"independent"}},"layer":[
   {"transform":[{"filter":"datum.p=='L4'"}],
    "encoding":{"x":{"field":"c","type":"ordinal","scale":{"type":"point","padding":0.46,"domain":["0","0.001","0.002","0.005","0.009","0.019","0.038","0.075","0.150"]},"axis":{"title":"Doxorubicin (µg/ml)","titlePadding":5}}},
    "layer":[
     {"transform":[{"filter":"isValid(datum.lo)"}],"mark":{"type":"errorbar","ticks":true,"size":6,"thickness":1.3,"color":"#000"},"encoding":{"y":{"field":"lo","type":"quantitative","scale":{"domain":[0,120]},"title":"Viability  (% control)"},"y2":{"field":"hi"}}},
     {"mark":{"type":"line","color":"#000","strokeWidth":1.6},"encoding":{"y":{"field":"v","type":"quantitative","scale":{"domain":[0,120]},"title":"Viability  (% control)"},"detail":{"field":"s","type":"nominal"},"order":{"field":"i","type":"quantitative"}}},
     {"mark":{"type":"point","shape":"square","filled":true,"size":64,"stroke":"#000","strokeWidth":1.5,"opacity":1},"encoding":{"y":{"field":"v","type":"quantitative","scale":{"domain":[0,120]},"title":"Viability  (% control)"},"fill":{"field":"s","type":"nominal","scale":{"domain":["wt","V","M"],"range":["#ffffff","#8f8f8f","#000000"]},"legend":null}}}
    ]},
   {"data":{"name":"anno"},"transform":[{"filter":"datum.p=='L4'"}],
    "encoding":{"y":{"field":"ln","type":"ordinal","scale":{"type":"point","padding":0,"domain":["a","b","p"],"range":[52,118]},"axis":null}},
    "layer":[
     {"transform":[{"filter":"datum.ln!='p'"}],"mark":{"type":"point","shape":"M7.175,-0.675H8.525V0.675H7.175Z","filled":true,"size":400,"stroke":"#000","strokeWidth":1.5,"opacity":1},"encoding":{"fill":{"field":"s","type":"nominal","scale":{"domain":["wt","V","M"],"range":["#ffffff","#8f8f8f","#000000"]},"legend":null}}},
     {"transform":[{"filter":"datum.ln!='p'"}],"mark":{"type":"text","align":"left","dx":99.5,"fontSize":19},"encoding":{"text":{"field":"t"}}},
     {"transform":[{"filter":"datum.ln=='p'"}],"mark":{"type":"text","align":"left","dx":151.5,"fontSize":19},"encoding":{"text":{"field":"t"}}}
    ]}
  ]},
  {"width":257,"height":175,"resolve":{"scale":{"y":"independent"}},"layer":[
   {"transform":[{"filter":"datum.p=='L5'"}],
    "encoding":{"x":{"field":"c","type":"ordinal","scale":{"type":"point","padding":0.52,"domain":["0","0.1","0.5","1","10","50","100"]},"axis":{"title":"Methotrexate (µg/ml)","titlePadding":0.1}}},
    "layer":[
     {"transform":[{"filter":"isValid(datum.lo)"}],"mark":{"type":"errorbar","ticks":true,"size":6,"thickness":1.3,"color":"#000"},"encoding":{"y":{"field":"lo","type":"quantitative","scale":{"domain":[0,140]},"title":"Viability (% control)"},"y2":{"field":"hi"}}},
     {"mark":{"type":"line","color":"#000","strokeWidth":1.6},"encoding":{"y":{"field":"v","type":"quantitative","scale":{"domain":[0,140]},"title":"Viability (% control)"},"detail":{"field":"s","type":"nominal"},"order":{"field":"i","type":"quantitative"}}},
     {"mark":{"type":"point","shape":"square","filled":true,"size":64,"stroke":"#000","strokeWidth":1.5,"opacity":1},"encoding":{"y":{"field":"v","type":"quantitative","scale":{"domain":[0,140]},"title":"Viability (% control)"},"fill":{"field":"s","type":"nominal","scale":{"domain":["wt","V","M"],"range":["#ffffff","#8f8f8f","#000000"]},"legend":null}}}
    ]},
   {"data":{"name":"anno"},"transform":[{"filter":"datum.p=='L5'"}],
    "encoding":{"y":{"field":"ln","type":"ordinal","scale":{"type":"point","padding":0,"domain":["a","b","p"],"range":[67.7,134.2]},"axis":null}},
    "layer":[
     {"transform":[{"filter":"datum.ln!='p'"}],"mark":{"type":"point","shape":"M7.345,-0.675H8.695V0.675H7.345Z","filled":true,"size":400,"stroke":"#000","strokeWidth":1.5,"opacity":1},"encoding":{"fill":{"field":"s","type":"nominal","scale":{"domain":["wt","V","M"],"range":["#ffffff","#8f8f8f","#000000"]},"legend":null}}},
     {"transform":[{"filter":"datum.ln!='p'"}],"mark":{"type":"text","align":"left","dx":101.2,"fontSize":19},"encoding":{"text":{"field":"t"}}},
     {"transform":[{"filter":"datum.ln=='p'"}],"mark":{"type":"text","align":"left","dx":153.2,"fontSize":19},"encoding":{"text":{"field":"t"}}}
    ]}
  ]},
  {"width":257,"height":176,"resolve":{"scale":{"y":"independent"}},"layer":[
   {"transform":[{"filter":"datum.p=='L6'"}],
    "encoding":{"x":{"field":"c","type":"ordinal","scale":{"type":"point","padding":0.53,"domain":["0","1","5","10","20","40","50","100"]},"axis":{"title":"Vincristine (nM)","titlePadding":-4.1}}},
    "layer":[
     {"transform":[{"filter":"isValid(datum.lo)"}],"mark":{"type":"errorbar","ticks":true,"size":6,"thickness":1.3,"color":"#000"},"encoding":{"y":{"field":"lo","type":"quantitative","scale":{"domain":[0,120]},"title":"Viability (% control)"},"y2":{"field":"hi"}}},
     {"mark":{"type":"line","color":"#000","strokeWidth":1.6},"encoding":{"y":{"field":"v","type":"quantitative","scale":{"domain":[0,120]},"title":"Viability (% control)"},"detail":{"field":"s","type":"nominal"},"order":{"field":"i","type":"quantitative"}}},
     {"mark":{"type":"point","shape":"square","filled":true,"size":64,"stroke":"#000","strokeWidth":1.5,"opacity":1},"encoding":{"y":{"field":"v","type":"quantitative","scale":{"domain":[0,120]},"title":"Viability (% control)"},"fill":{"field":"s","type":"nominal","scale":{"domain":["wt","V","M"],"range":["#ffffff","#8f8f8f","#000000"]},"legend":null}}}
    ]},
   {"data":{"name":"anno"},"transform":[{"filter":"datum.p=='L6'"}],
    "encoding":{"y":{"field":"ln","type":"ordinal","scale":{"type":"point","padding":0,"domain":["a","b","p"],"range":[93.4,164.3]},"axis":null}},
    "layer":[
     {"transform":[{"filter":"datum.ln!='p'"}],"mark":{"type":"point","shape":"M7.445,-0.675H8.795V0.675H7.445Z","filled":true,"size":400,"stroke":"#000","strokeWidth":1.5,"opacity":1},"encoding":{"fill":{"field":"s","type":"nominal","scale":{"domain":["wt","V","M"],"range":["#ffffff","#8f8f8f","#000000"]},"legend":null}}},
     {"transform":[{"filter":"datum.ln!='p'"}],"mark":{"type":"text","align":"left","dx":102.2,"fontSize":19},"encoding":{"text":{"field":"t"}}},
     {"transform":[{"filter":"datum.ln=='p'"}],"mark":{"type":"text","align":"left","dx":154.2,"fontSize":19},"encoding":{"text":{"field":"t"}}}
    ]}
  ]}
 ]}
]},
{"spacing":-2,"vconcat":[
 {"spacing":50.2,"hconcat":[
  {"width":1,"height":1,"data":{"values":[{"z":0}]},"mark":{"type":"point","opacity":0},"encoding":{}},
  {"width":252,"height":143,"view":{"stroke":"#000","strokeWidth":1.5},"data":{"name":"legend"},"transform":[{"filter":"datum.g=='UW'"}],
   "encoding":{"y":{"field":"lab","type":"ordinal","scale":{"type":"point","padding":0,"domain":["UW wt","UW V1","UW M13"],"range":[32.7,106.2]},"axis":null}},
   "layer":[
    {"mark":{"type":"point","shape":"M-9.05,0H-7.66M-6.34,0H-4.25M-7.66,-0.66H-6.34V0.66H-7.66Z","filled":true,"size":400,"stroke":"#000","strokeWidth":2,"opacity":1},"encoding":{"fill":{"field":"s","type":"nominal","scale":{"domain":["wt","V","M"],"range":["#ffffff","#8f8f8f","#000000"]},"legend":null}}},
    {"mark":{"type":"text","align":"left","dx":-26,"fontSize":26},"encoding":{"text":{"field":"lab"}}}
   ]}
 ]},
 {"spacing":-14,"vconcat":[
  {"width":255,"height":177,"resolve":{"scale":{"y":"independent"}},"layer":[
   {"transform":[{"filter":"datum.p=='R1'"}],
    "encoding":{"x":{"field":"c","type":"ordinal","scale":{"type":"point","padding":0.51,"domain":["0","0.08","0.16","0.31","0.63","1.25","2.50","5.00","10.00"]},"axis":{"title":"Etoposide (µg/ml)","titlePadding":4.9}}},
    "layer":[
     {"transform":[{"filter":"isValid(datum.lo)"}],"mark":{"type":"errorbar","ticks":true,"size":6,"thickness":1.3,"color":"#000"},"encoding":{"y":{"field":"lo","type":"quantitative","scale":{"domain":[0,120]},"title":"Viability  (% control)"},"y2":{"field":"hi"}}},
     {"mark":{"type":"line","color":"#000","strokeWidth":1.6},"encoding":{"y":{"field":"v","type":"quantitative","scale":{"domain":[0,120]},"title":"Viability  (% control)"},"detail":{"field":"s","type":"nominal"},"order":{"field":"i","type":"quantitative"}}},
     {"mark":{"type":"point","shape":"square","filled":true,"size":64,"stroke":"#000","strokeWidth":1.5,"opacity":1},"encoding":{"y":{"field":"v","type":"quantitative","scale":{"domain":[0,120]},"title":"Viability  (% control)"},"fill":{"field":"s","type":"nominal","scale":{"domain":["wt","V","M"],"range":["#ffffff","#8f8f8f","#000000"]},"legend":null}}}
    ]},
   {"data":{"name":"anno"},"transform":[{"filter":"datum.p=='R1'"}],
    "encoding":{"y":{"field":"ln","type":"ordinal","scale":{"type":"point","padding":0,"domain":["a","b","p"],"range":[41,107.4]},"axis":null}},
    "layer":[
     {"transform":[{"filter":"datum.ln!='p'"}],"mark":{"type":"point","shape":"M9.575,-0.675H10.925V0.675H9.575Z","filled":true,"size":400,"stroke":"#000","strokeWidth":1.5,"opacity":1},"encoding":{"fill":{"field":"s","type":"nominal","scale":{"domain":["wt","V","M"],"range":["#ffffff","#8f8f8f","#000000"]},"legend":null}}},
     {"transform":[{"filter":"datum.ln!='p'"}],"mark":{"type":"text","align":"left","dx":123.5,"fontSize":19},"encoding":{"text":{"field":"t"}}},
     {"transform":[{"filter":"datum.ln=='p'"}],"mark":{"type":"text","align":"left","dx":175.5,"fontSize":19},"encoding":{"text":{"field":"t"}}}
    ]}
  ]},
  {"width":255,"height":178,"resolve":{"scale":{"y":"independent"}},"layer":[
   {"transform":[{"filter":"datum.p=='R2'"}],
    "encoding":{"x":{"field":"c","type":"ordinal","scale":{"type":"point","padding":0.48,"domain":["0","0.08","0.16","0.31","0.63","1.25","2.5","5","10"]},"axis":{"title":"Cisplatin (µg/ml)","titlePadding":23.3}}},
    "layer":[
     {"transform":[{"filter":"isValid(datum.lo)"}],"mark":{"type":"errorbar","ticks":true,"size":6,"thickness":1.3,"color":"#000"},"encoding":{"y":{"field":"lo","type":"quantitative","scale":{"domain":[0,120]},"title":"Viability  (% control)"},"y2":{"field":"hi"}}},
     {"mark":{"type":"line","color":"#000","strokeWidth":1.6},"encoding":{"y":{"field":"v","type":"quantitative","scale":{"domain":[0,120]},"title":"Viability  (% control)"},"detail":{"field":"s","type":"nominal"},"order":{"field":"i","type":"quantitative"}}},
     {"mark":{"type":"point","shape":"square","filled":true,"size":64,"stroke":"#000","strokeWidth":1.5,"opacity":1},"encoding":{"y":{"field":"v","type":"quantitative","scale":{"domain":[0,120]},"title":"Viability  (% control)"},"fill":{"field":"s","type":"nominal","scale":{"domain":["wt","V","M"],"range":["#ffffff","#8f8f8f","#000000"]},"legend":null}}}
    ]},
   {"data":{"name":"anno"},"transform":[{"filter":"datum.p=='R2'"}],
    "encoding":{"y":{"field":"ln","type":"ordinal","scale":{"type":"point","padding":0,"domain":["a","b","p"],"range":[52.7,121.3]},"axis":null}},
    "layer":[
     {"transform":[{"filter":"datum.ln!='p'"}],"mark":{"type":"point","shape":"M9.605,-0.675H10.955V0.675H9.605Z","filled":true,"size":400,"stroke":"#000","strokeWidth":1.5,"opacity":1},"encoding":{"fill":{"field":"s","type":"nominal","scale":{"domain":["wt","V","M"],"range":["#ffffff","#8f8f8f","#000000"]},"legend":null}}},
     {"transform":[{"filter":"datum.ln!='p'"}],"mark":{"type":"text","align":"left","dx":123.8,"fontSize":19},"encoding":{"text":{"field":"t"}}},
     {"transform":[{"filter":"datum.ln=='p'"}],"mark":{"type":"text","align":"left","dx":175.8,"fontSize":19},"encoding":{"text":{"field":"t"}}}
    ]}
  ]},
  {"width":255,"height":181,"resolve":{"scale":{"y":"independent"}},"layer":[
   {"transform":[{"filter":"datum.p=='R3'"}],
    "encoding":{"x":{"field":"c","type":"ordinal","scale":{"type":"point","padding":0.45,"domain":["0","2","2.5","5","10","20","50","100"]},"axis":{"title":"Carboplatin [µg/ml]","titlePadding":4.5}}},
    "layer":[
     {"transform":[{"filter":"isValid(datum.lo)"}],"mark":{"type":"errorbar","ticks":true,"size":6,"thickness":1.3,"color":"#000"},"encoding":{"y":{"field":"lo","type":"quantitative","scale":{"domain":[0,120]},"title":"Viability (% control)"},"y2":{"field":"hi"}}},
     {"mark":{"type":"line","color":"#000","strokeWidth":1.6},"encoding":{"y":{"field":"v","type":"quantitative","scale":{"domain":[0,120]},"title":"Viability (% control)"},"detail":{"field":"s","type":"nominal"},"order":{"field":"i","type":"quantitative"}}},
     {"mark":{"type":"point","shape":"square","filled":true,"size":64,"stroke":"#000","strokeWidth":1.5,"opacity":1},"encoding":{"y":{"field":"v","type":"quantitative","scale":{"domain":[0,120]},"title":"Viability (% control)"},"fill":{"field":"s","type":"nominal","scale":{"domain":["wt","V","M"],"range":["#ffffff","#8f8f8f","#000000"]},"legend":null}}}
    ]},
   {"data":{"name":"anno"},"transform":[{"filter":"datum.p=='R3'"}],
    "encoding":{"y":{"field":"ln","type":"ordinal","scale":{"type":"point","padding":0,"domain":["a","b","p"],"range":[53.7,121.4]},"axis":null}},
    "layer":[
     {"transform":[{"filter":"datum.ln!='p'"}],"mark":{"type":"point","shape":"M9.675,-0.675H11.025V0.675H9.675Z","filled":true,"size":400,"stroke":"#000","strokeWidth":1.5,"opacity":1},"encoding":{"fill":{"field":"s","type":"nominal","scale":{"domain":["wt","V","M"],"range":["#ffffff","#8f8f8f","#000000"]},"legend":null}}},
     {"transform":[{"filter":"datum.ln!='p'"}],"mark":{"type":"text","align":"left","dx":124.5,"fontSize":19},"encoding":{"text":{"field":"t"}}},
     {"transform":[{"filter":"datum.ln=='p'"}],"mark":{"type":"text","align":"left","dx":176.5,"fontSize":19},"encoding":{"text":{"field":"t"}}}
    ]}
  ]},
  {"width":255,"height":178,"resolve":{"scale":{"y":"independent"}},"layer":[
   {"transform":[{"filter":"datum.p=='R4'"}],
    "encoding":{"x":{"field":"c","type":"ordinal","scale":{"type":"point","padding":0.42,"domain":["0","0.001","0.002","0.005","0.009","0.019","0.038","0.075","0.150"]},"axis":{"title":"Doxorubicin (µg/ml)","titlePadding":6.7}}},
    "layer":[
     {"transform":[{"filter":"isValid(datum.lo)"}],"mark":{"type":"errorbar","ticks":true,"size":6,"thickness":1.3,"color":"#000"},"encoding":{"y":{"field":"lo","type":"quantitative","scale":{"domain":[0,120]},"title":"Viability  (% control)"},"y2":{"field":"hi"}}},
     {"mark":{"type":"line","color":"#000","strokeWidth":1.6},"encoding":{"y":{"field":"v","type":"quantitative","scale":{"domain":[0,120]},"title":"Viability  (% control)"},"detail":{"field":"s","type":"nominal"},"order":{"field":"i","type":"quantitative"}}},
     {"mark":{"type":"point","shape":"square","filled":true,"size":64,"stroke":"#000","strokeWidth":1.5,"opacity":1},"encoding":{"y":{"field":"v","type":"quantitative","scale":{"domain":[0,120]},"title":"Viability  (% control)"},"fill":{"field":"s","type":"nominal","scale":{"domain":["wt","V","M"],"range":["#ffffff","#8f8f8f","#000000"]},"legend":null}}}
    ]},
   {"data":{"name":"anno"},"transform":[{"filter":"datum.p=='R4'"}],
    "encoding":{"y":{"field":"ln","type":"ordinal","scale":{"type":"point","padding":0,"domain":["a","b","p"],"range":[52,118]},"axis":null}},
    "layer":[
     {"transform":[{"filter":"datum.ln!='p'"}],"mark":{"type":"point","shape":"M9.605,-0.675H10.955V0.675H9.605Z","filled":true,"size":400,"stroke":"#000","strokeWidth":1.5,"opacity":1},"encoding":{"fill":{"field":"s","type":"nominal","scale":{"domain":["wt","V","M"],"range":["#ffffff","#8f8f8f","#000000"]},"legend":null}}},
     {"transform":[{"filter":"datum.ln!='p'"}],"mark":{"type":"text","align":"left","dx":123.8,"fontSize":19},"encoding":{"text":{"field":"t"}}},
     {"transform":[{"filter":"datum.ln=='p'"}],"mark":{"type":"text","align":"left","dx":175.8,"fontSize":19},"encoding":{"text":{"field":"t"}}}
    ]}
  ]},
  {"width":255,"height":175,"resolve":{"scale":{"y":"independent"}},"layer":[
   {"transform":[{"filter":"datum.p=='R5'"}],
    "encoding":{"x":{"field":"c","type":"ordinal","scale":{"type":"point","padding":0.45,"domain":["0","0.005","0.01","0.05","0.1","0.5","1","10","100"]},"axis":{"title":"Methotrexate [ µg/ml]","titlePadding":-4}}},
    "layer":[
     {"transform":[{"filter":"isValid(datum.lo)"}],"mark":{"type":"errorbar","ticks":true,"size":6,"thickness":1.3,"color":"#000"},"encoding":{"y":{"field":"lo","type":"quantitative","scale":{"domain":[0,120]},"title":"Viability  (% control)"},"y2":{"field":"hi"}}},
     {"mark":{"type":"line","color":"#000","strokeWidth":1.6},"encoding":{"y":{"field":"v","type":"quantitative","scale":{"domain":[0,120]},"title":"Viability  (% control)"},"detail":{"field":"s","type":"nominal"},"order":{"field":"i","type":"quantitative"}}},
     {"mark":{"type":"point","shape":"square","filled":true,"size":64,"stroke":"#000","strokeWidth":1.5,"opacity":1},"encoding":{"y":{"field":"v","type":"quantitative","scale":{"domain":[0,120]},"title":"Viability  (% control)"},"fill":{"field":"s","type":"nominal","scale":{"domain":["wt","V","M"],"range":["#ffffff","#8f8f8f","#000000"]},"legend":null}}}
    ]},
   {"data":{"name":"anno"},"transform":[{"filter":"datum.p=='R5'"}],
    "encoding":{"y":{"field":"ln","type":"ordinal","scale":{"type":"point","padding":0,"domain":["a","b","p"],"range":[66,132.5]},"axis":null}},
    "layer":[
     {"transform":[{"filter":"datum.ln!='p'"}],"mark":{"type":"point","shape":"M9.675,-0.675H11.025V0.675H9.675Z","filled":true,"size":400,"stroke":"#000","strokeWidth":1.5,"opacity":1},"encoding":{"fill":{"field":"s","type":"nominal","scale":{"domain":["wt","V","M"],"range":["#ffffff","#8f8f8f","#000000"]},"legend":null}}},
     {"transform":[{"filter":"datum.ln!='p'"}],"mark":{"type":"text","align":"left","dx":124.5,"fontSize":19},"encoding":{"text":{"field":"t"}}},
     {"transform":[{"filter":"datum.ln=='p'"}],"mark":{"type":"text","align":"left","dx":176.5,"fontSize":19},"encoding":{"text":{"field":"t"}}}
    ]}
  ]},
  {"width":255,"height":171,"resolve":{"scale":{"y":"independent"}},"layer":[
   {"transform":[{"filter":"datum.p=='R6'"}],
    "encoding":{"x":{"field":"c","type":"ordinal","scale":{"type":"point","padding":0.38,"domain":["0","0.2","1","5","10","20","40","50","100","1000"]},"axis":{"title":"Vincristine (nM)","titlePadding":-14}}},
    "layer":[
     {"transform":[{"filter":"isValid(datum.lo)"}],"mark":{"type":"errorbar","ticks":true,"size":6,"thickness":1.3,"color":"#000"},"encoding":{"y":{"field":"lo","type":"quantitative","scale":{"domain":[0,120]},"title":"Viability (% control)"},"y2":{"field":"hi"}}},
     {"mark":{"type":"line","color":"#000","strokeWidth":1.6},"encoding":{"y":{"field":"v","type":"quantitative","scale":{"domain":[0,120]},"title":"Viability (% control)"},"detail":{"field":"s","type":"nominal"},"order":{"field":"i","type":"quantitative"}}},
     {"mark":{"type":"point","shape":"square","filled":true,"size":64,"stroke":"#000","strokeWidth":1.5,"opacity":1},"encoding":{"y":{"field":"v","type":"quantitative","scale":{"domain":[0,120]},"title":"Viability (% control)"},"fill":{"field":"s","type":"nominal","scale":{"domain":["wt","V","M"],"range":["#ffffff","#8f8f8f","#000000"]},"legend":null}}}
    ]},
   {"data":{"name":"anno"},"transform":[{"filter":"datum.p=='R6'"}],
    "encoding":{"y":{"field":"ln","type":"ordinal","scale":{"type":"point","padding":0,"domain":["a","b","p"],"range":[84.7,155.6]},"axis":null}},
    "layer":[
     {"transform":[{"filter":"datum.ln!='p'"}],"mark":{"type":"point","shape":"M9.875,-0.675H11.225V0.675H9.875Z","filled":true,"size":400,"stroke":"#000","strokeWidth":1.5,"opacity":1},"encoding":{"fill":{"field":"s","type":"nominal","scale":{"domain":["wt","V","M"],"range":["#ffffff","#8f8f8f","#000000"]},"legend":null}}},
     {"transform":[{"filter":"datum.ln!='p'"}],"mark":{"type":"text","align":"left","dx":126.5,"fontSize":19},"encoding":{"text":{"field":"t"}}},
     {"transform":[{"filter":"datum.ln=='p'"}],"mark":{"type":"text","align":"left","dx":178.5,"fontSize":19},"encoding":{"text":{"field":"t"}}}
    ]}
  ]}
 ]}
]}
]
}
